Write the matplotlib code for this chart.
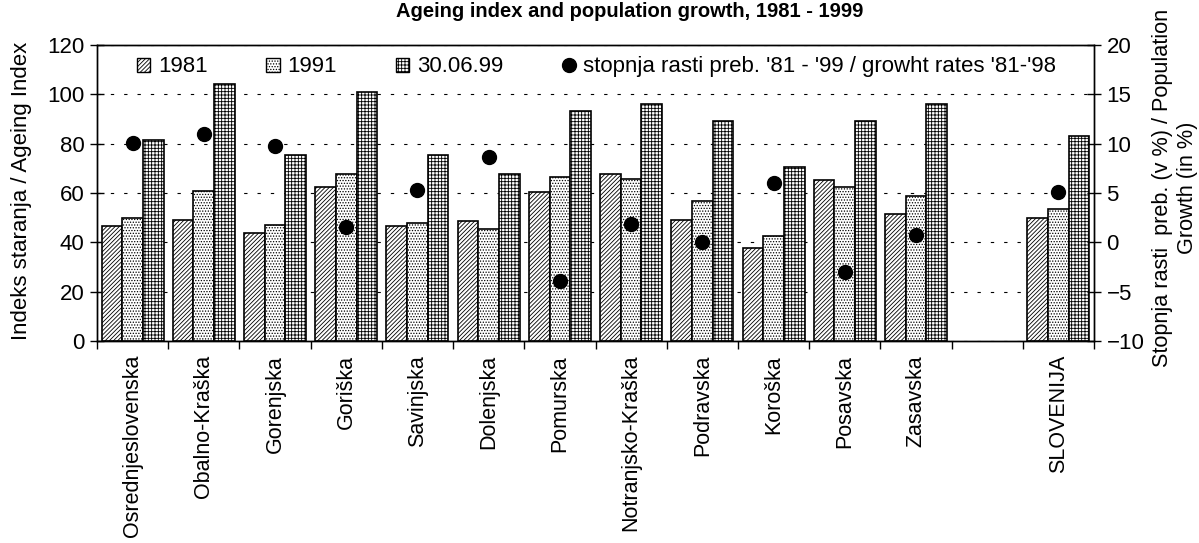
import numpy as np
import matplotlib
matplotlib.use("Agg")
import matplotlib.pyplot as plt
from matplotlib.patches import Patch
from matplotlib.lines import Line2D

plt.rcParams['font.family'] = ['Liberation Sans', 'DejaVu Sans']
plt.rcParams['hatch.linewidth'] = 0.6

regions = ['Osrednjeslovenska', 'Obalno-Kraška', 'Gorenjska', 'Goriška', 'Savinjska',
           'Dolenjska', 'Pomurska', 'Notranjsko-Kraška', 'Podravska', 'Koroška',
           'Posavska', 'Zasavska', 'SLOVENIJA']
idx_1981 = [46.6, 49.2, 43.8, 62.4, 46.6, 48.6, 60.3, 67.8, 49.2, 37.6, 65.1, 51.4, 50.0]
idx_1991 = [50.0, 60.8, 47.2, 67.8, 48.0, 45.3, 66.4, 65.8, 56.8, 42.4, 62.4, 58.9, 53.4]
idx_1999 = [81.5, 104.2, 75.3, 100.8, 75.4, 67.8, 93.2, 96.1, 89.2, 70.5, 89.2, 96.1, 83.3]
growth = [10.1, 11.0, 9.8, 1.6, 5.3, 8.6, -3.9, 1.9, 0.0, 6.0, -3.0, 0.7, 5.1]

# one empty slot before SLOVENIJA
x = np.r_[np.arange(12), 13]
w = 0.29
fs = 16

h81, h91, h99 = '////////', '......', '+++++'

fig = plt.figure(figsize=(11.99, 5.43), dpi=100)
ax = fig.add_axes([97/1199, 1-341/543, (1094-97)/1199, (341-45)/543])
ax2 = ax.twinx()

ax.set_axisbelow(True)
ax.yaxis.grid(True, color='black', linestyle=(0, (3, 9)), linewidth=0.8)

bar_kw = dict(width=w, color='white', edgecolor='black', linewidth=1.2, zorder=2)
ax.bar(x - w, idx_1981, hatch=h81, **bar_kw)
ax.bar(x, idx_1991, hatch=h91, **bar_kw)
ax.bar(x + w, idx_1999, hatch=h99, **bar_kw)

ax2.plot(x, growth, 'o', color='black', markersize=10, zorder=3)

ax.set_xlim(-0.5, 13.5)
ax.set_ylim(0, 120)
ax.set_yticks(np.arange(0, 121, 20))
ax2.set_ylim(-10, 20)
ax2.set_yticks(np.arange(-10, 21, 5))

ax.set_xticks(x)
ax.set_xticklabels(regions, rotation=90, va='top', ha='center')
ax.set_xticks(np.arange(-0.5, 14, 1), minor=True)
ax.tick_params(axis='x', which='major', length=0, pad=10, labelsize=15.5)
ax.tick_params(axis='x', which='minor', length=6, width=1, direction='out')
ax.tick_params(axis='y', direction='inout', length=10, width=1, labelsize=fs, pad=4)
ax2.tick_params(axis='y', direction='inout', length=10, width=1, labelsize=fs, pad=4)

for a in (ax, ax2):
    for s in a.spines.values():
        s.set_linewidth(1.0)

handles = [Patch(facecolor='white', edgecolor='black', hatch=h81, label='1981'),
           Patch(facecolor='white', edgecolor='black', hatch=h91, label='1991'),
           Patch(facecolor='white', edgecolor='black', hatch=h99, label='30.06.99'),
           Line2D([], [], marker='o', color='black', linestyle='none', markersize=10,
                  label="stopnja rasti preb. '81 - '99 / growht rates '81-'98")]
ax.legend(handles=handles, ncol=4, loc='center left', bbox_to_anchor=(0.031, 0.926),
          frameon=False, fontsize=fs, handlelength=0.6, handleheight=0.6,
          handletextpad=0.35, columnspacing=2.65, borderaxespad=0)

fig.text(630/1199, 1-17/543, 'Ageing index and population growth, 1981 - 1999',
         ha='center', va='baseline', fontsize=14.5, fontweight='bold')
fig.text(22/1199, 1-191/543, 'Indeks staranja / Ageing Index', rotation=90,
         ha='center', va='center', fontsize=fs)
fig.text(1175/1199, 1-188/543, 'Stopnja rasti  preb. (v %) / Population\nGrowth (in %)',
         rotation=90, ha='center', va='center', fontsize=15.6, multialignment='center')

fig.savefig('out.png', dpi=100)
